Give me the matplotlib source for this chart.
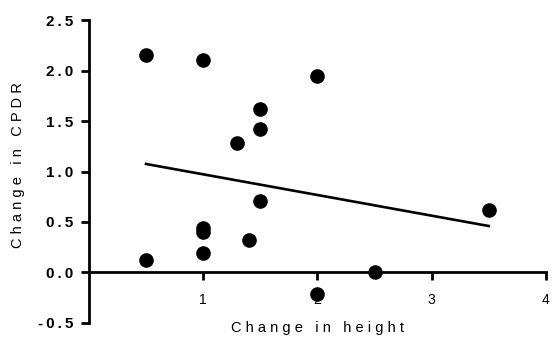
import numpy as np
import matplotlib.pyplot as plt

# change in height vs change in CPDR
height = [0.5, 0.5, 1.0, 1.0, 1.0, 1.0, 1.3, 1.4, 1.5, 1.5, 1.5, 2.0, 2.0, 2.5, 3.5]
cpdr = [2.15, 0.12, 2.10, 0.44, 0.40, 0.19, 1.28, 0.32, 1.62, 1.42, 0.71, 1.95, -0.21, 0.0, 0.62]

xticks = [1, 2, 3, 4]
yticks = [-0.5, 0.0, 0.5, 1.0, 1.5, 2.0, 2.5]

def spaced(s, sep=" "):
    return sep.join(s)

plt.rcParams['font.family'] = ['Liberation Sans', 'DejaVu Sans']

fig = plt.figure(figsize=(5.52, 3.41), dpi=100)
ax = fig.add_axes([0.161, 0.053, 0.828, 0.888])

ax.plot(height, cpdr, "o", color="black", markersize=9.5, clip_on=False, zorder=3)

# linear regression line over data range
slope, icept = np.polyfit(height, cpdr, 1)
xs = np.array([min(height), max(height)])
ax.plot(xs, slope * xs + icept, color="black", linewidth=1.9)

ax.set_xlim(0, 4)
ax.set_ylim(-0.5, 2.5)
ax.set_xticks(xticks)
ax.set_yticks(yticks)
ax.set_xticklabels([str(t) for t in xticks], fontweight="bold", fontsize=11)
ax.set_yticklabels([spaced("%.1f" % t, "\u2009") for t in yticks],
                   fontweight="bold", fontsize=11)

for s in ["top", "right"]:
    ax.spines[s].set_visible(False)
ax.spines["bottom"].set_position(("data", 0))
ax.spines["left"].set_linewidth(2)
ax.spines["bottom"].set_linewidth(2)
ax.tick_params(axis="both", width=2, length=6, direction="out")
ax.tick_params(axis="x", pad=9)
ax.tick_params(axis="y", pad=5)

ax.set_xlabel(spaced("Change in height"), fontsize=10.5)
ax.set_ylabel(spaced("Change in CPDR"), fontsize=10.5)
ax.xaxis.set_label_coords(0.5, 0.008)
ax.yaxis.set_label_coords(-0.14, 0.52)

fig.savefig("out.png", dpi=100)
